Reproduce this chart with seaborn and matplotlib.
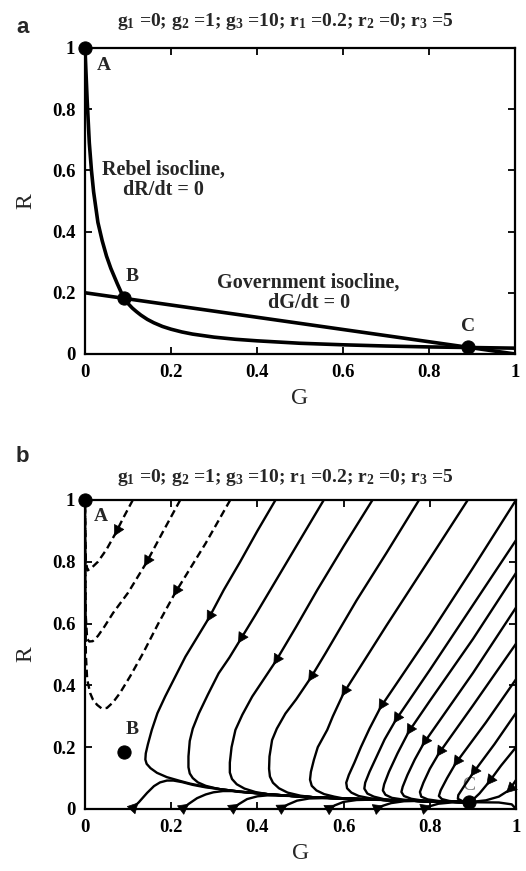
import numpy as np
import pandas as pd
import matplotlib
matplotlib.use('Agg')
import matplotlib.pyplot as plt
import seaborn as sns

# ---------------- panel a: isoclines ----------------
rebel_g = [0.0, 0.002, 0.005, 0.01, 0.015, 0.02, 0.03, 0.04, 0.05, 0.06, 0.075, 0.09,
           0.1, 0.11, 0.12, 0.13, 0.145, 0.16, 0.18, 0.2, 0.225, 0.25, 0.3, 0.35, 0.4,
           0.5, 0.6, 0.7, 0.8, 0.9, 1.0]
rebel_r = [1.0, 0.93, 0.83, 0.69, 0.6, 0.53, 0.43, 0.37, 0.32, 0.28, 0.23, 0.183,
           0.165, 0.15, 0.138, 0.127, 0.113, 0.102, 0.09, 0.081, 0.072, 0.065, 0.055, 0.048, 0.043,
           0.035, 0.03, 0.026, 0.023, 0.021, 0.019]
gov_g = [0.0, 1.0]
gov_r = [0.2, 0.0]

# equilibria A, B, C
eq_names = ['A', 'B', 'C']
eq_g = [0.0, 0.09, 0.89]
eq_r = [1.0, 0.183, 0.022]

tick_vals = [0, 0.2, 0.4, 0.6, 0.8, 1]
tick_labels = ['0', '0.2', '0.4', '0.6', '0.8', '1']
title_txt = 'g$_1$ =0; g$_2$ =1; g$_3$ =10; r$_1$ =0.2; r$_2$ =0; r$_3$ =5'

# ---------------- panel b: trajectories (G, R) ----------------
slow_path = [(0.19, 0.103), (0.22, 0.091), (0.244, 0.082), (0.28, 0.072), (0.314, 0.064),
             (0.36, 0.056), (0.423, 0.048), (0.48, 0.042), (0.53, 0.038), (0.6, 0.034),
             (0.7, 0.029), (0.8, 0.025), (0.89, 0.022)]

dash_1 = [(0.111, 1.0), (0.09, 0.945), (0.07, 0.89), (0.05, 0.84), (0.03, 0.8), (0.015, 0.78),
          (0.006, 0.772), (0.002, 0.8), (0.001, 0.9), (0.0, 1.0)]
dash_2 = [(0.221, 1.0), (0.18, 0.895), (0.142, 0.796), (0.1, 0.7), (0.065, 0.634), (0.045, 0.59),
          (0.03, 0.56), (0.018, 0.543), (0.01, 0.542), (0.005, 0.55), (0.002, 0.62),
          (0.001, 0.8), (0.0, 1.0)]
dash_3 = [(0.337, 1.0), (0.28, 0.86), (0.209, 0.699), (0.17, 0.6), (0.135, 0.505), (0.105, 0.43),
          (0.081, 0.375), (0.065, 0.345), (0.051, 0.327), (0.038, 0.326), (0.028, 0.337),
          (0.018, 0.355), (0.012, 0.375), (0.005, 0.42), (0.002, 0.5), (0.001, 0.7), (0.0, 1.0)]

solid_1 = [(0.442, 1.0), (0.40, 0.90), (0.36, 0.80), (0.322, 0.709), (0.287, 0.617), (0.26, 0.555),
           (0.233, 0.493), (0.21, 0.43), (0.186, 0.364), (0.168, 0.31), (0.155, 0.256),
           (0.146, 0.21), (0.141, 0.18), (0.14, 0.16), (0.143, 0.146), (0.152, 0.132), (0.167, 0.117)]
solid_2 = [(0.554, 1.0), (0.49, 0.85), (0.43, 0.709), (0.395, 0.627), (0.36, 0.547), (0.335, 0.49),
           (0.31, 0.439), (0.285, 0.37), (0.264, 0.309), (0.25, 0.26), (0.243, 0.22), (0.24, 0.17),
           (0.24, 0.135), (0.243, 0.115), (0.25, 0.1), (0.262, 0.086), (0.28, 0.075), (0.3, 0.068)]
solid_3 = [(0.667, 1.0), (0.6, 0.85), (0.539, 0.709), (0.49, 0.59), (0.442, 0.477), (0.41, 0.41),
           (0.388, 0.364), (0.365, 0.305), (0.349, 0.256), (0.34, 0.2), (0.336, 0.15), (0.336, 0.118),
           (0.341, 0.097), (0.352, 0.08), (0.37, 0.066), (0.395, 0.055)]
solid_4 = [(0.775, 1.0), (0.70, 0.83), (0.63, 0.675), (0.558, 0.504), (0.523, 0.423), (0.49, 0.355),
           (0.465, 0.309), (0.445, 0.26), (0.434, 0.223), (0.428, 0.17), (0.427, 0.13), (0.429, 0.105),
           (0.436, 0.085), (0.45, 0.067), (0.47, 0.053), (0.5, 0.043)]
solid_5 = [(0.888, 1.0), (0.8, 0.81), (0.7, 0.595), (0.6, 0.375), (0.575, 0.3), (0.562, 0.256),
           (0.54, 0.2), (0.531, 0.159), (0.524, 0.12), (0.522, 0.095), (0.526, 0.075), (0.537, 0.06),
           (0.555, 0.048), (0.578, 0.04)]
solid_6 = [(1.0, 1.0), (0.9, 0.78), (0.8, 0.565), (0.72, 0.4), (0.686, 0.33), (0.66, 0.26), (0.64, 0.2),
           (0.625, 0.15), (0.612, 0.11), (0.606, 0.085), (0.608, 0.067), (0.618, 0.053),
           (0.635, 0.042), (0.66, 0.035)]
right_1 = [(1.0, 0.87), (0.9, 0.66), (0.8, 0.45), (0.721, 0.288), (0.695, 0.225), (0.675, 0.165),
           (0.66, 0.12), (0.65, 0.085), (0.648, 0.066), (0.655, 0.05), (0.67, 0.04), (0.69, 0.033)]
right_2 = [(1.0, 0.764), (0.9, 0.55), (0.8, 0.35), (0.751, 0.25), (0.725, 0.18), (0.705, 0.12),
           (0.694, 0.08), (0.691, 0.06), (0.697, 0.046), (0.712, 0.036), (0.74, 0.03), (0.77, 0.027)]
right_3 = [(1.0, 0.652), (0.9, 0.44), (0.786, 0.213), (0.765, 0.16), (0.748, 0.11), (0.737, 0.072),
           (0.734, 0.055), (0.74, 0.042), (0.757, 0.033), (0.78, 0.028)]
right_4 = [(1.0, 0.535), (0.9, 0.335), (0.821, 0.18), (0.8, 0.13), (0.785, 0.085), (0.777, 0.055),
           (0.78, 0.04), (0.795, 0.031), (0.82, 0.026), (0.85, 0.024)]
right_5 = [(1.0, 0.42), (0.93, 0.28), (0.86, 0.148), (0.84, 0.1), (0.825, 0.06), (0.821, 0.042),
           (0.828, 0.032), (0.845, 0.026), (0.865, 0.023)]
right_6 = [(1.0, 0.311), (0.95, 0.21), (0.9, 0.116), (0.88, 0.075), (0.866, 0.045), (0.865, 0.033),
           (0.875, 0.026)]
right_7 = [(1.0, 0.2), (0.965, 0.14), (0.937, 0.087), (0.915, 0.05), (0.9, 0.03)]
right_8 = [(1.0, 0.094), (0.984, 0.061), (0.96, 0.04), (0.93, 0.028)]
right_9 = [(1.0, 0.0), (0.99, 0.015), (0.96, 0.021)]

bottom_1 = [(0.109, 0.0), (0.125, 0.022), (0.144, 0.052), (0.16, 0.074), (0.174, 0.086), (0.19, 0.092),
            (0.205, 0.092), (0.225, 0.087), (0.25, 0.078), (0.28, 0.07)]
bottom_2 = [(0.226, 0.0), (0.24, 0.016), (0.26, 0.035), (0.28, 0.047), (0.298, 0.054), (0.32, 0.058),
            (0.34, 0.058), (0.36, 0.055)]
bottom_3 = [(0.342, 0.0), (0.356, 0.015), (0.376, 0.032), (0.4, 0.041), (0.423, 0.044), (0.45, 0.043)]
bottom_4 = [(0.453, 0.0), (0.47, 0.014), (0.492, 0.027), (0.52, 0.034), (0.55, 0.035), (0.575, 0.034)]
bottom_5 = [(0.565, 0.0), (0.58, 0.012), (0.6, 0.023), (0.63, 0.029), (0.66, 0.03)]
bottom_6 = [(0.676, 0.0), (0.69, 0.01), (0.71, 0.019), (0.74, 0.025), (0.77, 0.026)]
bottom_7 = [(0.786, 0.0), (0.8, 0.009), (0.82, 0.017), (0.85, 0.021)]

# arrow head positions, one per trajectory
arrow_spots = {
    'd1': (0.072, 0.894), 'd2': (0.142, 0.796), 'd3': (0.209, 0.699),
    's1': (0.287, 0.617), 's2': (0.36, 0.547), 's3': (0.442, 0.477), 's4': (0.523, 0.423),
    's5': (0.6, 0.375), 's6': (0.686, 0.33),
    'r1': (0.721, 0.288), 'r2': (0.751, 0.25), 'r3': (0.786, 0.213), 'r4': (0.821, 0.18),
    'r5': (0.86, 0.148), 'r6': (0.9, 0.116), 'r7': (0.937, 0.087), 'r8': (0.984, 0.061),
    'b1': (0.117, 0.011), 'b2': (0.233, 0.008), 'b3': (0.349, 0.008), 'b4': (0.461, 0.007),
    'b5': (0.572, 0.006), 'b6': (0.683, 0.005), 'b7': (0.793, 0.005),
}


def join(curve):
    # follow the common path into C once the trajectory reaches it
    last_g = curve[-1][0]
    out = curve + [p for p in slow_path if p[0] > last_g + 0.005]
    if out[-1] != slow_path[-1]:
        out.append(slow_path[-1])
    return out


trajectories = {
    'd1': (dash_1, 'dashed'), 'd2': (dash_2, 'dashed'), 'd3': (dash_3, 'dashed'),
    's1': (join(solid_1), 'solid'), 's2': (join(solid_2), 'solid'), 's3': (join(solid_3), 'solid'),
    's4': (join(solid_4), 'solid'), 's5': (join(solid_5), 'solid'), 's6': (join(solid_6), 'solid'),
    'r1': (join(right_1), 'solid'), 'r2': (join(right_2), 'solid'), 'r3': (join(right_3), 'solid'),
    'r4': (join(right_4), 'solid'), 'r5': (join(right_5), 'solid'), 'r6': (join(right_6), 'solid'),
    'r7': (join(right_7), 'solid'), 'r8': (join(right_8), 'solid'), 'r9': (join(right_9), 'solid'),
    'b1': (join(bottom_1), 'solid'), 'b2': (join(bottom_2), 'solid'), 'b3': (join(bottom_3), 'solid'),
    'b4': (join(bottom_4), 'solid'), 'b5': (join(bottom_5), 'solid'), 'b6': (join(bottom_6), 'solid'),
    'b7': (join(bottom_7), 'solid'),
}

rows = []
for name, (pts, kind) in trajectories.items():
    for i, (g, r) in enumerate(pts):
        rows.append({'curve': name, 'kind': kind, 'step': i, 'G': g, 'R': r})
traj_df = pd.DataFrame(rows)

# ---------------- style ----------------
sns.set_style('ticks')
plt.rcParams['font.family'] = ['Liberation Serif', 'DejaVu Serif']
plt.rcParams['mathtext.default'] = 'regular'

fig = plt.figure(figsize=(5.26, 8.71), dpi=100)
ax_a = fig.add_axes([0.1616, 0.5936, 0.8175, 0.3513])
ax_b = fig.add_axes([0.1616, 0.0712, 0.8195, 0.3548])


def style_axes(ax):
    ax.set_xlim(0, 1)
    ax.set_ylim(0, 1)
    ax.set_xticks(tick_vals)
    ax.set_xticklabels(tick_labels)
    ax.set_yticks(tick_vals)
    ax.set_yticklabels(tick_labels)
    ax.tick_params(direction='in', top=True, right=True, length=5, width=1.3,
                   labelsize=13.5, pad=7, colors='black')
    for lab in ax.get_xticklabels() + ax.get_yticklabels():
        lab.set_fontweight('bold')
    for sp in ax.spines.values():
        sp.set_linewidth(1.6)
        sp.set_color('black')
    ax.set_xlabel('G', fontsize=17, labelpad=5)
    ax.set_ylabel('R', fontsize=17, labelpad=11)


# ---- panel a ----
sns.lineplot(x=rebel_g, y=rebel_r, sort=False, estimator=None, color='black', lw=2.6, ax=ax_a)
sns.lineplot(x=gov_g, y=gov_r, sort=False, estimator=None, color='black', lw=2.6, ax=ax_a)
sns.scatterplot(x=eq_g, y=eq_r, s=90, color='black', edgecolor='black', clip_on=False,
                zorder=5, legend=False, ax=ax_a)
style_axes(ax_a)
lbl = dict(fontsize=14, fontweight='bold', ha='center', va='center')
ax_a.text(0.044, 0.944, 'A', **lbl)
ax_a.text(0.109, 0.252, 'B', **lbl)
ax_a.text(0.89, 0.09, 'C', **lbl)
ax_a.text(0.182, 0.57, 'Rebel isocline,\ndR/dt = 0', fontsize=14.5, fontweight='bold',
          ha='center', va='center', linespacing=1.0)
ax_a.text(0.52, 0.2, 'Government isocline,\ndG/dt = 0', fontsize=14.5, fontweight='bold',
          ha='center', va='center', linespacing=1.0)

# ---- panel b ----
sns.lineplot(data=traj_df, x='G', y='R', units='curve', estimator=None, sort=False,
             style='kind', style_order=['solid', 'dashed'],
             dashes={'solid': '', 'dashed': (3.2, 1.8)},
             color='black', lw=1.7, legend=False, ax=ax_b)
for name, spot in arrow_spots.items():
    arr = np.array(trajectories[name][0])
    i = int(np.argmin(((arr - np.array(spot)) ** 2).sum(axis=1)))
    d = arr[min(i + 1, len(arr) - 1)] - arr[max(i - 1, 0)]
    d = d / np.hypot(d[0], d[1])
    ax_b.annotate('', xy=(spot[0] + 0.012 * d[0], spot[1] + 0.012 * d[1]),
                  xytext=(spot[0] - 0.012 * d[0], spot[1] - 0.012 * d[1]),
                  arrowprops=dict(arrowstyle='-|>,head_length=0.7,head_width=0.38',
                                  color='black', lw=0.5, mutation_scale=10,
                                  shrinkA=0, shrinkB=0))
sns.scatterplot(x=eq_g, y=eq_r, s=90, color='black', edgecolor='black', clip_on=False,
                zorder=5, legend=False, ax=ax_b)
style_axes(ax_b)
ax_b.text(0.037, 0.945, 'A', **lbl)
ax_b.text(0.109, 0.256, 'B', **lbl)
ax_b.text(0.89, 0.075, 'C', fontsize=14, ha='center', va='center', color='0.45', zorder=1)

# titles and panel letters
fig.text(0.542, 0.975, title_txt, fontsize=14, fontweight='bold', ha='center', va='center')
fig.text(0.542, 0.452, title_txt, fontsize=14, fontweight='bold', ha='center', va='center')
fig.text(0.042, 0.969, 'a', fontsize=16, fontweight='bold', ha='center', va='center',
         family=['Liberation Sans', 'DejaVu Sans'])
fig.text(0.042, 0.476, 'b', fontsize=16, fontweight='bold', ha='center', va='center',
         family=['Liberation Sans', 'DejaVu Sans'])

fig.savefig('out.png', dpi=100)
